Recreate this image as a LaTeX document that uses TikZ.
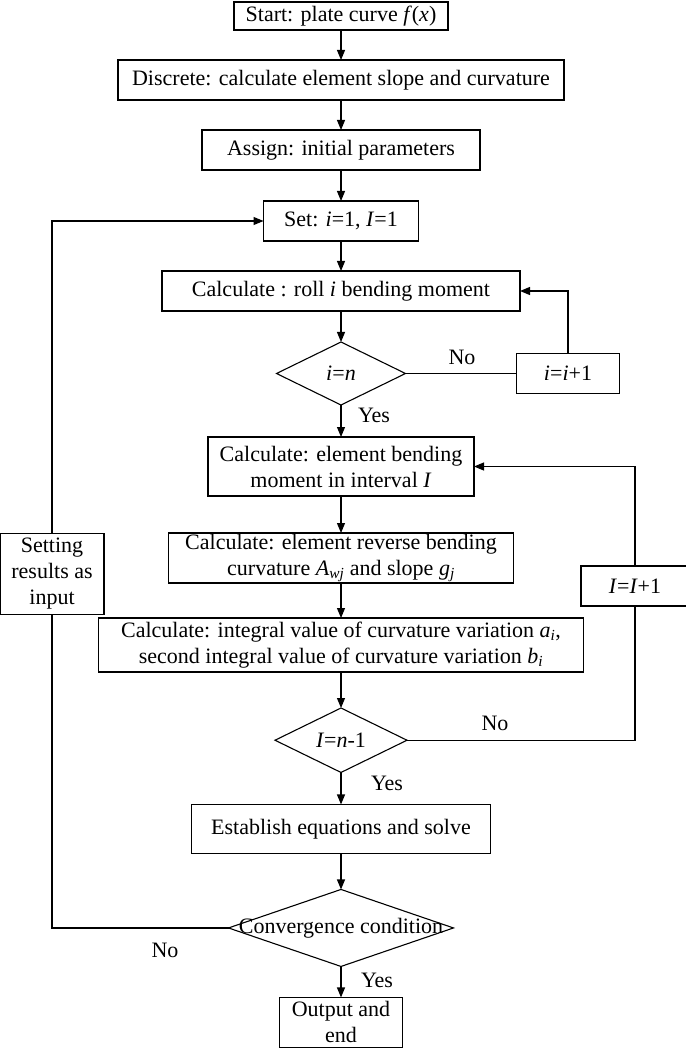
\documentclass[tikz,border=0pt]{standalone}
\usepackage{fontspec}
\setmainfont{Liberation Serif}
\usetikzlibrary{positioning,shapes.geometric,arrows.meta}

\begin{document}
\begin{tikzpicture}[
    x=1pt, y=-1pt,
    every node/.style={font=\fontsize{22}{26}\selectfont},
    box/.style={draw, line width=1.1pt, align=center, inner sep=0pt, outer sep=0pt, minimum height=40pt},
    dec/.style={draw, line width=1.1pt, shape=diamond, inner sep=0pt, outer sep=0pt, minimum height=63pt},
    lbl/.style={inner sep=0pt},
    arr/.style={-{Stealth[length=10pt,width=8pt,inset=0pt]}, line width=1.1pt},
    ln/.style={line width=1.1pt}
  ]
    \useasboundingbox (0,0) rectangle (685,1048);
    \node[box, minimum width=214pt, minimum height=28pt] (start) at (341,16) {Start: plate curve \textit{f}(\textit{x})};
    \node[box, minimum width=446pt, below=30pt of start] (discrete) {Discrete: calculate element slope and curvature};
    \node[box, minimum width=278pt, below=30pt of discrete] (assign) {Assign: initial parameters};
    \node[box, minimum width=155pt, below=31pt of assign] (set) {Set: \textit{i}=1, \textit{I}=1};
    \node[box, minimum width=358pt, below=30pt of set] (roll) {Calculate : roll \textit{i} bending moment};
    \node[dec, minimum width=129pt, below=31pt of roll] (rolltest) {\textit{i}=\textit{n}};
    \node[box, minimum width=103pt, right=111pt of rolltest] (rollinc) {\textit{i}=\textit{i}+1};
    \node[box, minimum width=266pt, minimum height=59pt, below=32pt of rolltest] (moment) {Calculate: element bending\\moment in interval \textit{I}};
    \node[box, minimum width=345pt, minimum height=50pt, below=37pt of moment] (reverse) {Calculate: element reverse bending\\curvature \textit{A}\textsubscript{\textit{wj}} and slope \textit{g}\textsubscript{\textit{j}}};
    \node[box, minimum width=485pt, minimum height=54pt, below=35pt of reverse] (integral) {Calculate: integral value of curvature variation \textit{a}\textsubscript{\textit{i}},\\second integral value of curvature variation \textit{b}\textsubscript{\textit{i}}};
    \node[dec, minimum width=132pt, below=36pt of integral] (inttest) {\textit{I}=\textit{n}-1};
    \node[box, minimum width=299pt, minimum height=49pt, below=32pt of inttest] (solve) {Establish equations and solve};
    \node[dec, minimum width=225pt, minimum height=77pt, below=36pt of solve] (conv) {\makebox[0pt]{Convergence condition}};
    \node[box, minimum width=123pt, minimum height=50pt, below=31pt of conv] (out) {Output and\\end};
    \node[box, minimum width=108pt] (intinc) at (635,586) {\textit{I}=\textit{I}+1};
    \node[box, minimum width=104pt, minimum height=81pt] (reset) at (52,574) {Setting\\results as\\input};
    \node[lbl] (no1) at (462,357) {No};
    \node[lbl] (yes1) at (374,415) {Yes};
    \node[lbl] (no2) at (495,723) {No};
    \node[lbl] (yes2) at (387,783) {Yes};
    \node[lbl] (no3) at (165,950) {No};
    \node[lbl] (yes3) at (377,980) {Yes};
    \draw[arr] (start) -- (discrete);
    \draw[arr] (discrete) -- (assign);
    \draw[arr] (assign) -- (set);
    \draw[arr] (set) -- (roll);
    \draw[arr] (roll) -- (rolltest);
    \draw[arr] (rolltest) -- (moment);
    \draw[arr] (moment) -- (reverse);
    \draw[arr] (reverse) -- (integral);
    \draw[arr] (integral) -- (inttest);
    \draw[arr] (inttest) -- (solve);
    \draw[arr] (solve) -- (conv);
    \draw[arr] (conv) -- (out);
    \draw[ln] (rolltest.east) -- (rollinc.west);
    \draw[arr] (rollinc.north) |- (roll.east);
    \draw[ln] (inttest.east) -| (intinc.south);
    \draw[arr] (intinc.north) |- (moment.east);
    \draw[ln] (conv.west) -| (reset.south);
    \draw[arr] (reset.north) |- (set.west);
  \end{tikzpicture}
\end{document}
